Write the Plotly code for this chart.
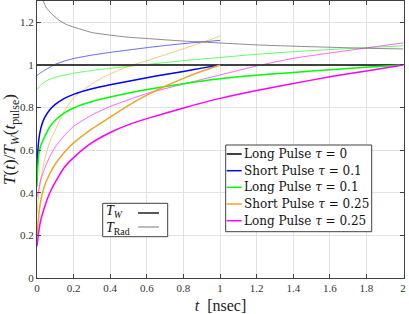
import plotly.graph_objects as go

# ---------------- data ----------------
# Long Pulse tau = 0
t_l0_w = [0.0, 2.0]
T_l0_w = [1.0, 1.0]
t_l0_rad = [0.03, 0.05, 0.08, 0.12, 0.16, 0.2, 0.3, 0.4, 0.5, 0.6, 0.8, 1.0, 1.2, 1.4, 1.6, 1.8, 2.0]
T_l0_rad = [1.31, 1.27, 1.24, 1.21, 1.19, 1.178, 1.152, 1.14, 1.13, 1.124, 1.112, 1.103, 1.094, 1.088, 1.083, 1.078, 1.075]

# Short Pulse tau = 0.1
t_s1_w = [0.0, 0.005, 0.01, 0.02, 0.04, 0.07, 0.1, 0.15, 0.2, 0.3, 0.4, 0.5, 0.6, 0.7, 0.8, 0.9, 1.0]
T_s1_w = [0.5, 0.6, 0.65, 0.7, 0.75, 0.79, 0.815, 0.843, 0.862, 0.888, 0.907, 0.923, 0.94, 0.955, 0.969, 0.985, 1.0]
t_s1_rad = [0.0, 0.01, 0.02, 0.04, 0.06, 0.08, 0.1, 0.15, 0.2, 0.3, 0.4, 0.5, 0.6, 0.7, 0.8, 0.9, 1.0]
T_s1_rad = [0.95, 0.957, 0.963, 0.974, 0.984, 0.994, 1.003, 1.018, 1.03, 1.046, 1.059, 1.07, 1.081, 1.091, 1.1, 1.108, 1.115]

# Long Pulse tau = 0.1
t_l1_w = [0.0, 0.005, 0.01, 0.02, 0.04, 0.07, 0.1, 0.15, 0.2, 0.3, 0.4, 0.5, 0.6, 0.8, 1.0, 1.2, 1.4, 1.6, 1.8, 2.0]
T_l1_w = [0.43, 0.53, 0.58, 0.62, 0.66, 0.71, 0.74, 0.775, 0.798, 0.828, 0.849, 0.868, 0.885, 0.912, 0.935, 0.951, 0.965, 0.977, 0.989, 1.0]
t_l1_rad = [0.0, 0.02, 0.05, 0.1, 0.2, 0.3, 0.4, 0.6, 0.8, 1.0, 1.2, 1.4, 1.6, 1.8, 2.0]
T_l1_rad = [0.885, 0.905, 0.925, 0.942, 0.961, 0.974, 0.984, 1.002, 1.02, 1.035, 1.05, 1.062, 1.072, 1.081, 1.09]

# Short Pulse tau = 0.25
t_s2_w = [0.0, 0.01, 0.02, 0.04, 0.07, 0.1, 0.15, 0.2, 0.3, 0.4, 0.5, 0.6, 0.7, 0.8, 0.9, 1.0]
T_s2_w = [0.2, 0.3, 0.36, 0.43, 0.49, 0.535, 0.59, 0.634, 0.7, 0.755, 0.81, 0.858, 0.9, 0.937, 0.97, 1.0]
t_s2_rad = [0.0, 0.01, 0.02, 0.04, 0.07, 0.1, 0.15, 0.2, 0.3, 0.4, 0.5, 0.6, 0.7, 0.8, 0.9, 1.0]
T_s2_rad = [0.3, 0.4, 0.46, 0.55, 0.64, 0.695, 0.785, 0.845, 0.912, 0.958, 0.993, 1.02, 1.048, 1.076, 1.105, 1.135]

# Long Pulse tau = 0.25
t_l2_w = [0.0, 0.01, 0.02, 0.04, 0.07, 0.1, 0.15, 0.2, 0.3, 0.4, 0.5, 0.6, 0.8, 1.0, 1.2, 1.4, 1.6, 1.8, 2.0]
T_l2_w = [0.15, 0.22, 0.27, 0.33, 0.4, 0.45, 0.52, 0.565, 0.635, 0.683, 0.72, 0.748, 0.798, 0.843, 0.88, 0.913, 0.944, 0.972, 1.0]
t_l2_rad = [0.0, 0.01, 0.02, 0.04, 0.07, 0.1, 0.15, 0.2, 0.3, 0.4, 0.6, 0.8, 1.0, 1.2, 1.4, 1.6, 1.8, 2.0]
T_l2_rad = [0.38, 0.42, 0.46, 0.51, 0.57, 0.615, 0.67, 0.712, 0.765, 0.805, 0.866, 0.91, 0.953, 0.995, 1.031, 1.056, 1.08, 1.103]

names = ["Long Pulse <i>τ</i> = 0", "Short Pulse <i>τ</i> = 0.1", "Long Pulse <i>τ</i> = 0.1",
         "Short Pulse <i>τ</i> = 0.25", "Long Pulse <i>τ</i> = 0.25"]
colors = ["#404040", "#0000FF", "#00FF00", "#EDA52A", "#FF00FF"]

x_ticks = [0, 0.2, 0.4, 0.6, 0.8, 1.0, 1.2, 1.4, 1.6, 1.8, 2.0]
y_ticks = [0, 0.2, 0.4, 0.6, 0.8, 1.0, 1.2]

series = [
    (t_l0_w, T_l0_w, t_l0_rad, T_l0_rad),
    (t_s1_w, T_s1_w, t_s1_rad, T_s1_rad),
    (t_l1_w, T_l1_w, t_l1_rad, T_l1_rad),
    (t_s2_w, T_s2_w, t_s2_rad, T_s2_rad),
    (t_l2_w, T_l2_w, t_l2_rad, T_l2_rad),
]

FONT = "Liberation Serif"
LFONT = "DejaVu Serif"
W_THICK = [2.0, 1.5, 1.5, 1.5, 1.5]

fig = go.Figure()

# thin radiation-temperature curves first (behind)
for (tw, Tw, tr, Tr), c, n in zip(series, colors, names):
    fig.add_trace(go.Scatter(x=tr, y=Tr, mode="lines", showlegend=False, hoverinfo="skip",
                             line=dict(color=c, width=0.8, shape="spline", smoothing=0.5),
                             opacity=0.75))
# thick wall-temperature curves
for (tw, Tw, tr, Tr), c, n, w in zip(series, colors, names, W_THICK):
    fig.add_trace(go.Scatter(x=tw, y=Tw, mode="lines", name=n, showlegend=False,
                             line=dict(color=c, width=w, shape="spline", smoothing=0.5)))

axis_common = dict(showline=True, linecolor="#404040", linewidth=1.3, mirror="ticks",
                   ticks="inside", ticklen=4, tickcolor="#404040", tickwidth=1,
                   showgrid=True, gridcolor="#E3E3E3", gridwidth=1, zeroline=False,
                   automargin=False,
                   tickfont=dict(family=FONT, size=11, color="#333333"))

ML, MR, MT, MB, WIDTH, HEIGHT = 37, 5, 1, 36, 409, 314
fig.update_layout(
    width=WIDTH, height=HEIGHT,
    margin=dict(l=ML, r=MR, t=MT, b=MB),
    paper_bgcolor="white", plot_bgcolor="white",
    font=dict(family=FONT, color="#222222"),
    showlegend=False,
    xaxis=dict(range=[0, 2.005], tickvals=x_ticks,
               title=dict(text="<i>t</i>  [nsec]", font=dict(family=FONT, size=16)),
               **axis_common),
    yaxis=dict(range=[0, 1.3], tickvals=y_ticks,
               title=dict(text="<i>T</i>(<i>t</i>)/<i>T</i><sub><i>W</i></sub>(<i>t</i><sub>pulse</sub>)",
                          font=dict(family=FONT, size=17)),
               **axis_common),
)

# ---- legend box (drawn in paper coordinates of the plot area) ----
PW = WIDTH - ML - MR
PH = HEIGHT - MT - MB
def px(xpix):
    return (xpix - ML) / PW
def py(ypix):
    return (HEIGHT - MB - ypix) / PH

fig.add_shape(type="rect", xref="paper", yref="paper", x0=px(225.7), x1=px(371.7),
              y0=py(231.7), y1=py(145), line=dict(color="#404040", width=1),
              fillcolor="white", layer="above")
row_y = [154, 170.7, 187.3, 204, 220.7]
for n, c, w, ry in zip(names, colors, W_THICK, row_y):
    fig.add_shape(type="line", xref="paper", yref="paper", x0=px(226.7), x1=px(241.7),
                  y0=py(ry), y1=py(ry), line=dict(color=c, width=w), layer="above")
    fig.add_annotation(xref="paper", yref="paper", x=px(242.0), y=py(ry),
                       xanchor="left", yanchor="middle", text=n, showarrow=False,
                       font=dict(family=LFONT, size=12, color="#111111"))

# small style key: T_W (thick) / T_Rad (thin)
fig.add_shape(type="rect", xref="paper", yref="paper", x0=px(102.7), x1=px(167.7),
              y0=py(236.7), y1=py(203.3), line=dict(color="#404040", width=1),
              fillcolor="white", layer="above")
fig.add_shape(type="line", xref="paper", yref="paper", x0=px(138), x1=px(159),
              y0=py(213), y1=py(213), line=dict(color="#222222", width=1.5), layer="above")
fig.add_shape(type="line", xref="paper", yref="paper", x0=px(138), x1=px(159),
              y0=py(227), y1=py(227), line=dict(color="#555555", width=0.8), layer="above")
fig.add_annotation(xref="paper", yref="paper", x=px(104), y=py(212), xanchor="left",
                   yanchor="middle", text="<i>T</i><sub><i>W</i></sub>", showarrow=False,
                   font=dict(family=FONT, size=14, color="#111111"))
fig.add_annotation(xref="paper", yref="paper", x=px(104), y=py(228), xanchor="left",
                   yanchor="middle", text="<i>T</i><sub>Rad</sub>", showarrow=False,
                   font=dict(family=FONT, size=14, color="#111111"))

fig.write_html("out.html", config={"displayModeBar": False},
               post_script="document.body.style.margin='0';")
